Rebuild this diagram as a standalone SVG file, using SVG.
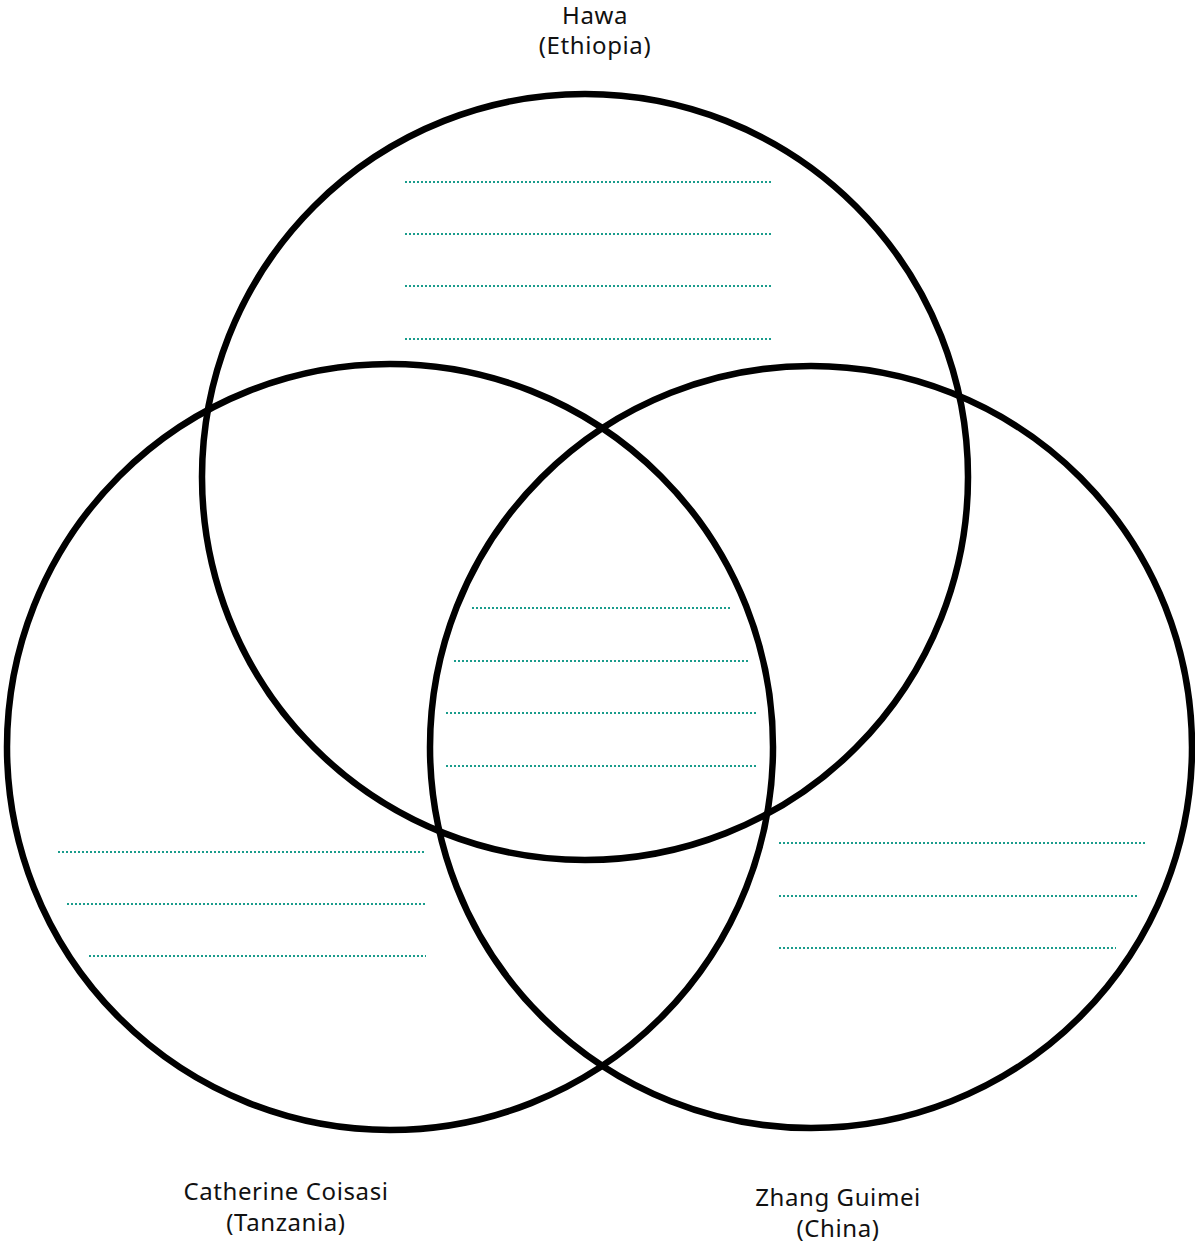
<svg xmlns="http://www.w3.org/2000/svg" width="1195" height="1246" viewBox="0 0 1195 1246">
<style>
.c{fill:none;stroke:#000;stroke-width:6.5}
.d{stroke:#1a9c8c;stroke-width:2;stroke-dasharray:2 2;fill:none}
.t{font-family:"Noto Sans","DejaVu Sans",sans-serif;font-size:24px;letter-spacing:0.6px;fill:#111;text-anchor:middle}
</style>
<rect width="1195" height="1246" fill="#fff"/>
<g id="hawa">
<circle class="c" cx="585" cy="477" r="383"/>
<text class="t" x="595" y="24">Hawa</text>
<text class="t" x="595" y="54">(Ethiopia)</text>
<path class="d" d="M405 182H773M405 234H773M405 286H773M405 339H773"/>
</g>
<g id="catherine">
<circle class="c" cx="390" cy="747" r="383"/>
<text class="t" x="286" y="1200">Catherine Coisasi</text>
<text class="t" x="286" y="1231">(Tanzania)</text>
<path class="d" d="M58 852H426M67 904H426M89 956H426"/>
</g>
<g id="zhang">
<circle class="c" cx="811" cy="747" r="381"/>
<text class="t" x="838" y="1206">Zhang Guimei</text>
<text class="t" x="838" y="1237">(China)</text>
<path class="d" d="M779 843H1147M779 896H1137M779 948H1116"/>
</g>
<g id="center">
<path class="d" d="M472 608H731M454 661H749M446 713H757M446 766H757"/>
</g>
</svg>
